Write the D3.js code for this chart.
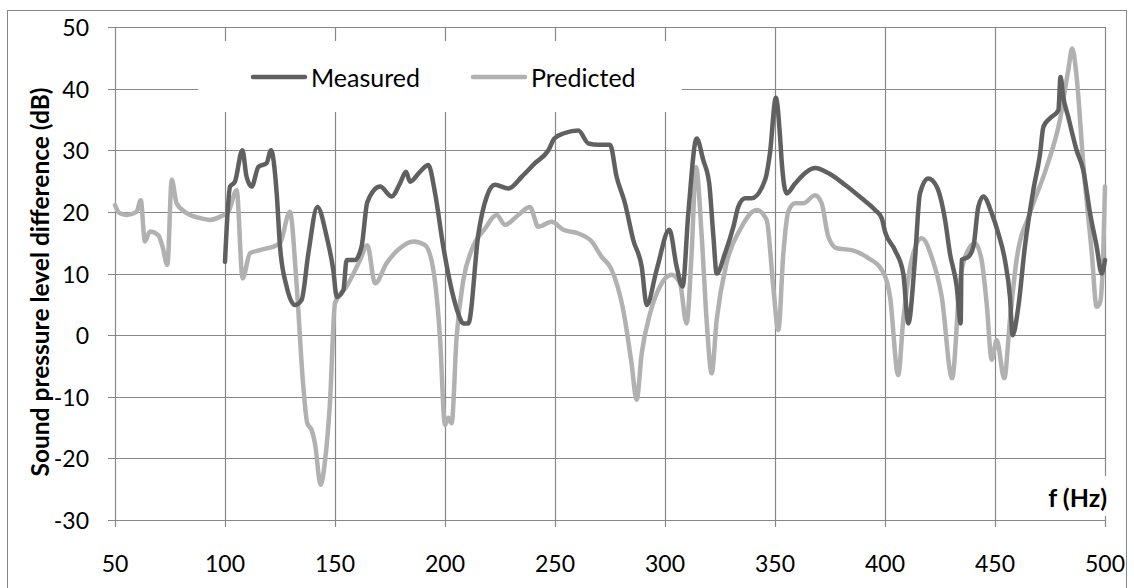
<!DOCTYPE html>
<html>
<head>
<meta charset="utf-8">
<script src="https://cdn.jsdelivr.net/npm/d3@7"></script>
<style>
  html, body { margin: 0; padding: 0; background: #fff; }
  svg { display: block; font-family: Lato, 'Open Sans', sans-serif; }
</style>
</head>
<body>
<main></main>
<script>
// Frequencies (Hz) and level differences (dB)
const measuredFreq = [100, 102.3, 104.5, 107.9, 109.8, 112.1, 115.2, 118.9, 120.9, 123.5, 125, 128, 131.8, 134.8, 137.9, 142, 146.2, 149.2, 150.8, 153.8, 155.3, 159.1, 162.1, 164.7, 170.5, 175.8, 179.5, 182.3, 184.1, 188.6, 192.4, 195.5, 199.2, 203.8, 206, 208.3, 210.6, 215.2, 219, 222.7, 228.8, 234.9, 240.9, 247, 249.7, 254.5, 260.6, 265.2, 269.7, 275, 278, 281.8, 285.6, 289.4, 291.7, 296.2, 302, 305.3, 308, 310.6, 314.4, 317.4, 320.1, 322, 323.5, 327.3, 331.1, 333.3, 336.4, 339.4, 345.5, 347.7, 350.4, 352.3, 353, 355.3, 359.1, 364.4, 368.2, 374.2, 381.8, 389.4, 395.5, 398.5, 400, 404.5, 408.3, 410.6, 413.6, 415.9, 419.7, 423.5, 427.3, 429.5, 432.6, 434.4, 434.8, 437.9, 440.2, 442.4, 444.7, 448.5, 451.5, 454.5, 456.8, 458, 460.6, 463.6, 467.4, 470.5, 472, 475, 478.8, 479.8, 481, 483.3, 487.1, 490.1, 493.2, 496.2, 498.5, 500];
const measuredLevel = [11.9, 24.1, 24.9, 30.0, 25.7, 24.1, 27.3, 27.9, 30.0, 23.0, 14.4, 7.9, 4.9, 5.7, 13.3, 20.8, 16.0, 10.6, 6.2, 7.3, 12.2, 12.2, 14.4, 21.6, 24.1, 22.5, 24.6, 26.5, 24.9, 26.5, 27.6, 23.0, 14.4, 6.2, 3.5, 1.9, 1.9, 16.5, 22.5, 24.4, 23.8, 25.7, 27.9, 30.0, 31.9, 32.8, 33.2, 31.1, 30.9, 30.9, 25.7, 21.4, 15.4, 11.1, 4.9, 10.6, 17.1, 11.1, 7.9, 19.8, 31.9, 28.4, 24.6, 16.0, 10.0, 13.3, 17.6, 20.8, 22.2, 22.2, 25.2, 29.5, 38.5, 32.2, 28.4, 23.0, 24.6, 26.5, 27.1, 26.3, 24.4, 22.2, 20.3, 19.0, 16.8, 13.8, 10.0, 1.9, 12.2, 23.0, 25.4, 24.1, 18.7, 13.3, 7.9, 1.9, 12.2, 12.7, 14.4, 20.8, 22.5, 19.8, 16.5, 12.2, 6.2, 0.0, 4.6, 14.4, 23.5, 29.5, 33.8, 35.2, 36.5, 41.9, 38.7, 35.4, 30.0, 26.8, 19.8, 14.4, 10.0, 12.2];

const predictedFreq = [50, 52, 55.3, 59.8, 61.7, 63.6, 65.9, 69.7, 71.5, 73.8, 75.8, 78, 82.6, 88.6, 93.2, 97.7, 101.5, 105.3, 108, 111.4, 115.9, 123.5, 125, 129.5, 132.6, 135.6, 137.4, 139.4, 140.9, 143.5, 145.5, 147.7, 150, 155.3, 161.4, 164.7, 168.2, 173.5, 179.5, 185.6, 190.9, 194.7, 197.7, 200, 201.5, 203, 205.3, 208.3, 212.1, 218.2, 223.5, 227.3, 233.3, 238.6, 242.4, 248.5, 253.8, 260.6, 266.7, 271.2, 275.5, 281, 284.8, 287.1, 289.4, 293.2, 297.7, 303, 306.8, 309.8, 312.1, 314.1, 316.7, 318.9, 321.2, 323.5, 328, 334.1, 341.7, 346.2, 349.2, 351.5, 353.8, 356, 359.1, 362.9, 368.2, 371.2, 374.2, 378, 384.8, 392.4, 398.5, 402.3, 406, 408.3, 412.1, 416.7, 421.2, 425.8, 430.5, 434.1, 437.1, 440.9, 443.9, 446.2, 448.5, 450.8, 454.2, 456.8, 459.8, 465.9, 473.5, 479.5, 483.3, 485.1, 487.1, 490.1, 494, 496.2, 497.7, 499.2, 500];
const predictedLevel = [21.1, 19.8, 19.5, 20.0, 21.9, 15.2, 16.8, 16.2, 14.5, 11.4, 25.2, 21.4, 19.8, 19.0, 18.7, 19.2, 20.0, 23.5, 9.2, 13.3, 13.8, 14.6, 14.9, 20.0, 7.9, -8.4, -14.3, -15.4, -17.6, -24.3, -20.3, -11.0, 5.2, 7.9, 12.2, 14.6, 8.4, 11.7, 14.1, 15.2, 14.6, 10.6, -0.2, -14.6, -13.4, -14.3, -0.2, 8.9, 13.8, 17.3, 19.5, 17.9, 19.5, 20.8, 17.6, 18.4, 17.1, 16.5, 15.2, 12.7, 10.8, 4.1, -4.6, -10.5, -3.0, 3.5, 7.9, 9.8, 8.4, 1.9, 13.3, 27.3, 16.0, 2.5, -6.2, 2.5, 11.7, 17.1, 20.3, 18.7, 7.9, 0.8, 13.3, 20.0, 21.4, 21.4, 22.7, 21.4, 16.0, 14.1, 13.8, 12.5, 10.6, 6.2, -6.5, 2.5, 12.2, 15.7, 12.7, 6.2, -7.0, 8.9, 13.3, 14.9, 12.2, 5.2, -4.0, -0.8, -7.0, 2.5, 12.2, 19.8, 27.3, 34.9, 43.0, 46.5, 41.9, 27.9, 13.3, 4.6, 5.2, 13.3, 24.1];

const seriesNames = ['Measured', 'Predicted'];
const seriesColors = ['#606060', '#b1b1b1'];
const xTicks = [50, 100, 150, 200, 250, 300, 350, 400, 450, 500];
const yTicks = [-30, -20, -10, 0, 10, 20, 30, 40, 50];

const W = 1134, H = 588;
const plot = { left: 115, right: 1105, top: 27, bottom: 520 };
const gridColor = '#878787';

const svg = d3.select('main').append('svg').attr('width', W).attr('height', H);
svg.append('rect').attr('width', W).attr('height', H).attr('fill', '#fff');

// outer chart frame
svg.append('rect')
  .attr('x', 7.5).attr('y', 10.5)
  .attr('width', 1119).attr('height', 600)
  .attr('fill', 'none').attr('stroke', gridColor).attr('stroke-width', 1);

const x = d3.scaleLinear().domain([50, 500]).range([plot.left, plot.right]);
const y = d3.scaleLinear().domain([-30, 50]).range([plot.bottom, plot.top]);

// gridlines
const grid = svg.append('g').attr('stroke', gridColor).attr('stroke-width', 1.2);
grid.selectAll('line.h').data(yTicks).join('line')
  .attr('x1', plot.left - 7).attr('x2', plot.right)
  .attr('y1', (d) => Math.round(y(d)) + 0.5).attr('y2', (d) => Math.round(y(d)) + 0.5);
grid.selectAll('line.v').data(xTicks).join('line')
  .attr('y1', plot.top).attr('y2', plot.bottom + 7)
  .attr('x1', (d) => Math.round(x(d)) + 0.5).attr('x2', (d) => Math.round(x(d)) + 0.5);

// tick labels
svg.append('g').selectAll('text').data(yTicks).join('text')
  .attr('x', 89).attr('y', (d) => y(d))
  .attr('text-anchor', 'end').attr('dominant-baseline', 'central')
  .attr('font-size', 23).attr('fill', '#000')
  .text((d) => d);
svg.append('g').selectAll('text').data(xTicks).join('text')
  .attr('x', (d) => x(d)).attr('y', 572)
  .attr('text-anchor', 'middle')
  .attr('font-size', 23).attr('fill', '#000')
  .text((d) => d);

// axis titles
svg.append('text')
  .attr('transform', 'translate(39,282) rotate(-90)')
  .attr('text-anchor', 'middle').attr('dominant-baseline', 'central')
  .attr('font-size', 24.5).attr('font-weight', 'bold')
  .text('Sound pressure level difference (dB)');
svg.append('rect').attr('x', 1044).attr('y', 476).attr('width', 66).attr('height', 40).attr('fill', '#fff');
svg.append('text')
  .attr('x', 1107).attr('y', 507)
  .attr('text-anchor', 'end')
  .attr('font-size', 25).attr('font-weight', 'bold')
  .text('f (Hz)');

// series
const line = d3.line()
  .x((d) => x(d[0]))
  .y((d) => y(d[1]))
  .curve(d3.curveMonotoneX);

const series = [
  d3.zip(predictedFreq, predictedLevel),
  d3.zip(measuredFreq, measuredLevel)
];
const order = [1, 0];
svg.append('g').selectAll('path').data(series).join('path')
  .attr('d', line)
  .attr('fill', 'none')
  .attr('stroke', (d, i) => seriesColors[order[i]])
  .attr('stroke-width', 4.5)
  .attr('stroke-linejoin', 'round')
  .attr('stroke-linecap', 'round');

// legend
svg.append('rect').attr('x', 198).attr('y', 41).attr('width', 484).attr('height', 71).attr('fill', '#fff');
const legendX = [253, 473];
seriesNames.forEach((name, i) => {
  const g = svg.append('g');
  g.append('line')
    .attr('x1', legendX[i]).attr('x2', legendX[i] + 52)
    .attr('y1', 77).attr('y2', 77)
    .attr('stroke', seriesColors[i]).attr('stroke-width', 4.5)
    .attr('stroke-linecap', 'round');
  g.append('text')
    .attr('x', legendX[i] + 58).attr('y', 77)
    .attr('dominant-baseline', 'central')
    .attr('font-size', 25)
    .text(name);
});
</script>
</body>
</html>
